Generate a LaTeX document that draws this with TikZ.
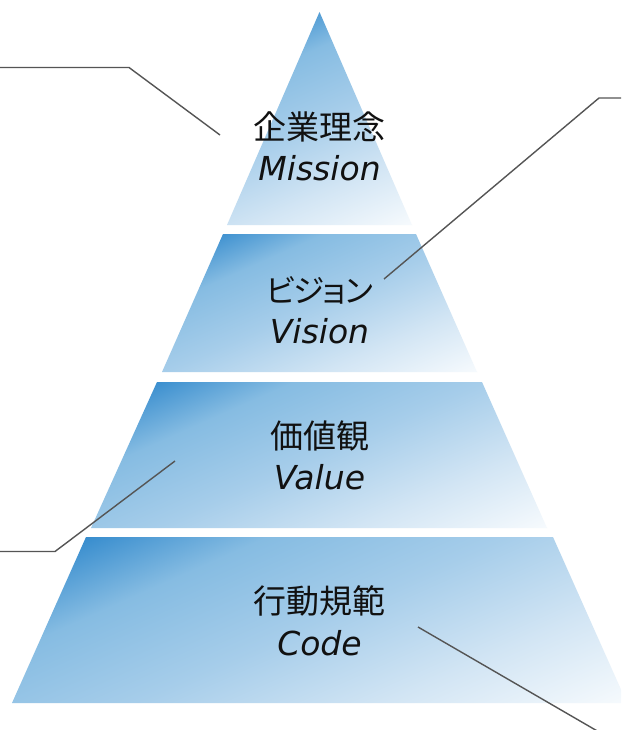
\documentclass[tikz,border=0pt]{standalone}
\usepackage{fontspec}
\newfontfamily\jpf{Noto Sans CJK JP}
\newfontfamily\jpfp[RawFeature=+palt,LetterSpace=-4]{Noto Sans CJK JP}
\newfontfamily\latf{DejaVu Sans}
\definecolor{tdark}{HTML}{2C86CB}
\definecolor{tmd}{HTML}{86BCE2}
\definecolor{tm}{HTML}{A6CDEA}
\definecolor{tl}{HTML}{D2E5F4}
\definecolor{tw}{HTML}{F6FAFD}
\definecolor{calloutgray}{HTML}{555555}
\definecolor{txt}{HTML}{111111}
\pgfdeclareverticalshading{tiershade}{100bp}{color(0bp)=(white); color(17bp)=(tw); color(33bp)=(tl); color(50bp)=(tm); color(66bp)=(tmd); color(80bp)=(tdark); color(100bp)=(tdark)}
\begin{document}
\begin{tikzpicture}[x=1pt,y=-1pt,
  tier/.style={shade, shading=tiershade, shading angle=24, draw=none},
  jp/.style={font=\jpf\fontsize{33}{38}\selectfont, text=txt, inner sep=0pt, anchor=center},
  jpp/.style={font=\jpfp\fontsize{31.5}{36}\selectfont, text=txt, inner sep=0pt, anchor=center},
  en/.style={font=\latf\itshape\fontsize{33}{38}\selectfont, text=txt, inner sep=0pt, anchor=base},
  callout/.style={draw=calloutgray, line width=1.4pt, line join=miter}]
\useasboundingbox (0,0) rectangle (621,730);
\clip (0,0) rectangle (621,730);
\fill[white] (0,0) rectangle (621,730);
% tiers
\path[tier] (319.5,12) -- (412,225) -- (227,225) -- cycle;
\path[tier] (223,234) -- (416,234) -- (477,372) -- (162,372) -- cycle;
\path[tier] (157,382) -- (482,382) -- (547,528) -- (91,528) -- cycle;
\path[tier] (86,537) -- (553,537) -- (627,703) -- (12,703) -- cycle;
% texts
\node[jp] (mjp) at (319.5,127) {企業理念};
\node[en] (men) at (319.5,181) {Mission};
\node[jpp] (vjp) at (319.5,290) {ビジョン};
\node[en] (ven) at (319.5,343) {Vision};
\node[jp] (vajp) at (319.5,435.5) {価値観};
\node[en] (vaen) at (319.5,489) {Value};
\node[jp] (cjp) at (319.5,601) {行動規範};
\node[en] (cen) at (319.5,655) {Code};
% callout coordinates
\coordinate (m0) at (-2,67.5);
\coordinate (m1) at (129,67.5);
\coordinate (m2) at (220,135);
\coordinate (v0) at (623,98);
\coordinate (v1) at (599,98);
\coordinate (v2) at (384,279);
\coordinate (va0) at (-2,551.5);
\coordinate (va1) at (55,551.5);
\coordinate (va2) at (175,461);
\coordinate (c1) at (418,627);
\coordinate (c2) at (599,732);
\draw[callout] (m0) -- (m1) -- (m2);
\draw[callout] (v0) -- (v1) -- (v2);
\draw[callout] (va0) -- (va1) -- (va2);
\draw[callout] (c1) -- (c2);
\end{tikzpicture}
\end{document}
